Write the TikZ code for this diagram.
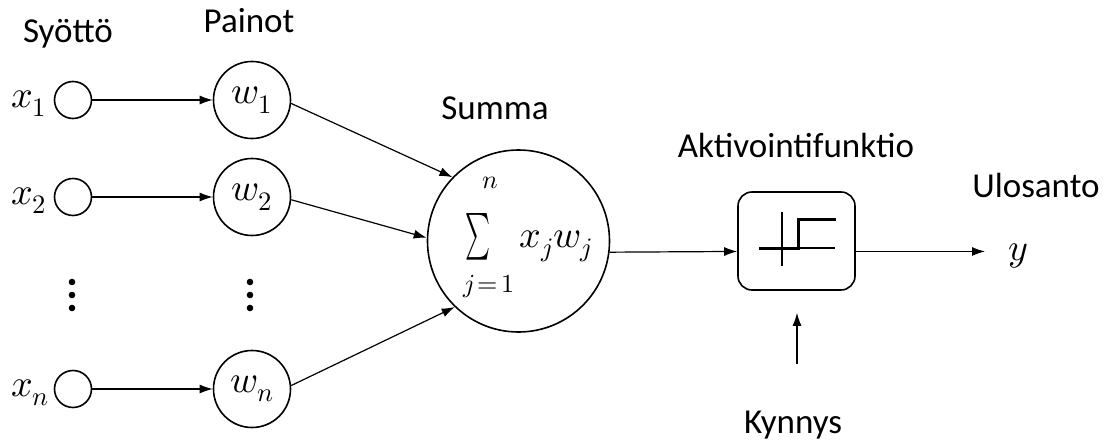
\documentclass[tikz,border=0pt]{standalone}
\usepackage{fontspec}
\usepackage{unicode-math}
\usepackage{graphicx}
\setmainfont{Carlito}
\setmathfont{Latin Modern Math}
\usetikzlibrary{arrows.meta,calc}
\begin{document}
\begin{tikzpicture}[x=1pt,y=-1pt,
  lbl/.style={font=\fontsize{35}{40}\selectfont, inner sep=0pt, anchor=base},
  mth/.style={font=\fontsize{38}{42}\selectfont, inner sep=0pt},
  inp/.style={circle, draw, line width=1.6pt, minimum size=37pt, inner sep=0pt},
  wgt/.style={circle, draw, line width=1.6pt, minimum size=77pt, inner sep=0pt, font=\fontsize{38}{42}\selectfont},
  conn/.style={line width=1.2pt, -{Latex[length=13pt,width=9pt]}},
  dot/.style={fill=black},
]
\useasboundingbox (0,0) rectangle (1111,444);

% headings
\node[lbl] (hin)  at (68,43)   {Syöttö};
\node[lbl] (hw)   at (249,33)  {Painot};
\node[lbl] (hsum) at (495,119) {Summa};
\node[lbl] (hact) at (796,157) {Aktivointifunktio};
\node[lbl] (hout) at (1036,197){Ulosanto};
\node[lbl] (hthr) at (793,433) {Kynnys};

% inputs
\node[inp] (i1) at (73,100) {};
\node[inp] (i2) at (73,197) {};
\node[inp] (in) at (73,389) {};
\node[mth, anchor=base west] (lx1) at (11,107) {$x_1$};
\node[mth, anchor=base west] (lx2) at (11,204) {$x_2$};
\node[mth, anchor=base west] (lxn) at (11,396) {$x_n$};

% weights
\node[wgt] (w1) at (252,100) {$w_1$};
\node[wgt] (w2) at (252,197) {$w_2$};
\node[wgt] (wn) at (252,389) {$w_n$};

% vertical ellipses
\foreach \yy in {282,295,308} {
  \fill[dot] (72,\yy) circle (3.3pt);
  \fill[dot] (250,\yy) circle (3.3pt);
}

% summing junction
\node[circle, draw, line width=1.6pt, minimum size=182pt, inner sep=0pt] (sum) at (518.5,241) {};
\node[inner sep=0pt] (sigma) at (478,237) {\resizebox{25pt}{35pt}{$\sum$}};
\node[mth, font=\fontsize{26}{30}\selectfont] (sup) at (490,183) {$n$};
\node[mth, font=\fontsize{26}{30}\selectfont] (sub) at (489,287) {$j\!=\!1$};
\node[mth, anchor=base] (term) at (556,247) {$x_j w_j$};

% activation block
\node[draw, line width=1.6pt, rounded corners=14pt, minimum width=117pt, minimum height=98pt] (box) at (796.5,241) {};
\draw[line width=1.3pt] (759,248) -- (835,248);
\draw[line width=1.3pt] (782,212) -- (782,266);
\draw[line width=3pt] (759,248) -- (798,248) -- (798,219) -- (836,219);

% connectors
\draw[conn] (i1.east) -- (w1.west);
\draw[conn] (i2.east) -- (w2.west);
\draw[conn] (in.east) -- (wn.west);
\draw[conn] (w1.-5) -- (sum.136);
\draw[conn] (w2.-4) -- (sum.178);
\draw[conn] (wn.5) -- (sum.226.5);
\draw[conn] (sum.-7) -- (box.190);

\node[mth, anchor=base west] (yout) at (1008,260) {$y$};
\coordinate (yend) at (985,251);
\draw[conn] (box.-10) -- (box.-10 -| yend);

\coordinate (thr) at (797,364);
\draw[conn] (thr) -- ($(box.south)+(0.5,22)$);
\end{tikzpicture}
\end{document}
